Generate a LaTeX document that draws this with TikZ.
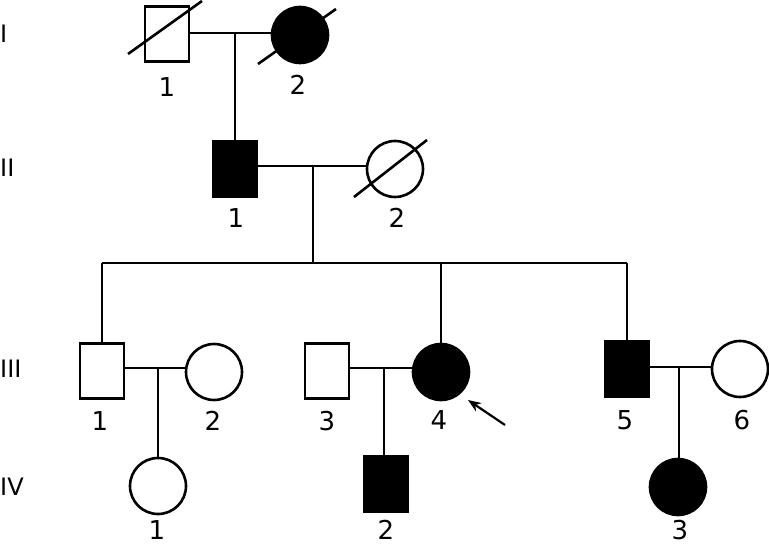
\documentclass[tikz,border=0pt]{standalone}
\usepackage{fontspec}
\setmainfont{DejaVu Sans}
\usetikzlibrary{arrows.meta,calc}
\begin{document}
\begin{tikzpicture}[x=1pt,y=-1pt,
  ln/.style={line width=2.6pt},
  male/.style={rectangle,draw,line width=2.6pt,minimum width=44pt,minimum height=55pt,inner sep=0pt,fill=white},
  female/.style={circle,draw,line width=2.6pt,minimum size=56pt,inner sep=0pt,fill=white},
  aff/.style={fill=black},
  lbl/.style={font=\fontsize{26}{26}\selectfont,inner sep=0pt,anchor=center},
  gen/.style={font=\fontsize{24}{24}\selectfont,inner sep=0pt,anchor=west}]
\useasboundingbox (0,0) rectangle (769,545);
% generation labels
\node[gen] (gI) at (0,34) {I};
\node[gen] (gII) at (0,168) {II};
\node[gen] (gIII) at (0,369) {III};
\node[gen] (gIV) at (0,487) {IV};
% coordinates for lines
\coordinate (m1) at (235,33);
\coordinate (m2) at (313,166);
\coordinate (s2) at (313,263);
\coordinate (s1) at (102,263);
\coordinate (s4) at (441,263);
\coordinate (s5) at (627,263);
\coordinate (m3) at (158,368);
\coordinate (m4) at (384,368);
\coordinate (m5) at (679,367);
% lines (drawn first)
\draw[ln] (167,33) -- (300,33);
\draw[ln] (m1) -- (235,168);
\draw[ln] (235,166) -- (395,166);
\draw[ln] (m2) -- (s2);
\draw[ln] (s1) -- (s5);
\draw[ln] (s1) -- (102,370);
\draw[ln] (s4) -- (441,370);
\draw[ln] (s5) -- (627,370);
\draw[ln] (102,368) -- (214,368);
\draw[ln] (327,368) -- (441,368);
\draw[ln] (627,367) -- (740,367);
\draw[ln] (m3) -- (158,486);
\draw[ln] (m4) -- (384,486);
\draw[ln] (m5) -- (679,486);
% individuals
\node[male] (I1) at (167,34) {};
\node[female,aff] (I2) at (300,35) {};
\node[male,aff] (II1) at (235,169) {};
\node[female] (II2) at (395,169) {};
\node[male] (III1) at (102,371) {};
\node[female] (III2) at (214,372) {};
\node[male] (III3) at (327,371) {};
\node[female,aff] (III4) at (441,372) {};
\node[male,aff] (III5) at (627,369) {};
\node[female] (III6) at (740,369) {};
\node[female] (IV1) at (158,486) {};
\node[male,aff] (IV2) at (386,484) {};
\node[female,aff] (IV3) at (678,487) {};
% deceased marks
\draw[ln] ($(I1)+(-39,20)$) -- ($(I1)+(35,-33)$);
\draw[ln] ($(I2)+(-42,29)$) -- ($(I2)+(36,-26)$);
\draw[ln] ($(II2)+(-41,28)$) -- ($(II2)+(32,-29)$);
% proband arrow
\coordinate (pa) at (505,425);
\draw[-{Stealth[length=13pt,width=10pt]},line width=2.2pt] (pa) -- ($(III4)+(27,28)$);
% labels
\node[lbl] (lI1) at (167,87) {1};
\node[lbl] (lI2) at (298,85) {2};
\node[lbl] (lII1) at (236,218) {1};
\node[lbl] (lII2) at (397,218) {2};
\node[lbl] (lIII1) at (100,421) {1};
\node[lbl] (lIII2) at (213,421) {2};
\node[lbl] (lIII3) at (327,421) {3};
\node[lbl] (lIII4) at (439,420) {4};
\node[lbl] (lIII5) at (625,420) {5};
\node[lbl] (lIII6) at (742,420) {6};
\node[lbl] (lIV1) at (157,530) {1};
\node[lbl] (lIV2) at (386,530) {2};
\node[lbl] (lIV3) at (680,530) {3};
\end{tikzpicture}
\end{document}
